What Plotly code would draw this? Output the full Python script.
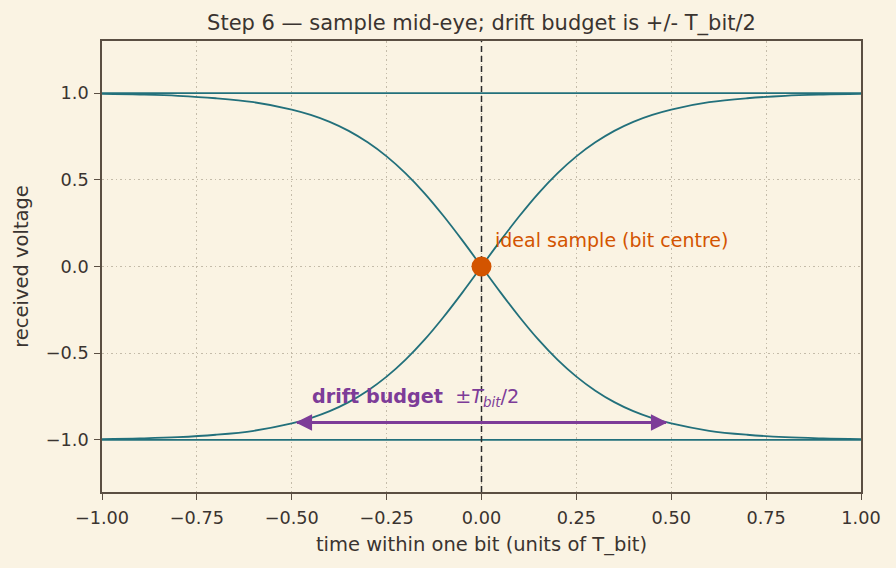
import plotly.graph_objects as go

# time samples (units of T_bit) and received voltage
t = [-1.0, -0.9, -0.8, -0.7, -0.6, -0.5, -0.45, -0.4, -0.35, -0.3, -0.25, -0.2, -0.15, -0.1, -0.05,
     0.0, 0.05, 0.1, 0.15, 0.2, 0.25, 0.3, 0.35, 0.4, 0.45, 0.5, 0.6, 0.7, 0.8, 0.9, 1.0]
rising = [-0.995, -0.991, -0.984, -0.970, -0.947, -0.905, -0.874, -0.834, -0.782, -0.716, -0.635,
          -0.537, -0.422, -0.291, -0.149, 0.0, 0.149, 0.291, 0.422, 0.537, 0.635, 0.716, 0.782,
          0.834, 0.874, 0.905, 0.947, 0.970, 0.984, 0.991, 0.995]
falling = [-v for v in rising]
flat_t = [-1.0, 1.0]
high = [1.0, 1.0]
low = [-1.0, -1.0]
centre_t = [0.0, 0.0]
centre_span = [-1.3, 1.3]
sample_t = [0.0]
sample_v = [0.0]
budget = [-0.49, 0.49]
budget_level = -0.9

x_ticks = [-1.0, -0.75, -0.5, -0.25, 0.0, 0.25, 0.5, 0.75, 1.0]
y_ticks = [-1.0, -0.5, 0.0, 0.5, 1.0]

BG = "#faf3e3"
TEAL = "#22707b"
ORANGE = "#d35400"
PURPLE = "#7d3c98"
INK = "#3a3430"
SPINE = "#5a4e42"
GRID = "#c4bba9"
FONT = "DejaVu Sans"

fig = go.Figure()
for ys in (rising, falling):
    fig.add_trace(go.Scatter(x=t, y=ys, mode="lines", line=dict(color=TEAL, width=1.8, shape="spline"),
                             hoverinfo="skip", showlegend=False))
for ys in (high, low):
    fig.add_trace(go.Scatter(x=flat_t, y=ys, mode="lines", line=dict(color=TEAL, width=1.8),
                             hoverinfo="skip", showlegend=False))

fig.add_trace(go.Scatter(x=centre_t, y=centre_span, mode="lines",
                         line=dict(color="#2b2b2b", width=1.5, dash="6px,4px"),
                         hoverinfo="skip", showlegend=False))

fig.add_trace(go.Scatter(x=sample_t, y=sample_v, mode="markers",
                         marker=dict(color=ORANGE, size=20, line=dict(width=0)),
                         showlegend=False))

fig.add_annotation(x=0.03, y=0.155, text="ideal sample (bit centre)", showarrow=False,
                   xanchor="left", yanchor="middle", font=dict(family=FONT, size=19, color=ORANGE))

# double-headed arrow
for a, b in ((budget[0], budget[1]), (budget[1], budget[0])):
    fig.add_annotation(x=a, y=budget_level, ax=b, ay=budget_level, xref="x", yref="y",
                       axref="x", ayref="y", text="", showarrow=True, arrowhead=2,
                       arrowsize=1.1, arrowwidth=3, arrowcolor=PURPLE)

fig.add_annotation(x=-0.452, y=-0.755, showarrow=False, xanchor="left", yanchor="middle",
                   text="<b>drift budget</b>  ±<i>T</i><sub><i>bit</i></sub>/2",
                   font=dict(family=FONT, size=19.2, color=PURPLE))

fig.update_layout(
    width=896, height=568,
    paper_bgcolor=BG, plot_bgcolor=BG,
    margin=dict(l=102, r=35, t=41, b=76),
    font=dict(family=FONT, color=INK, size=18),
    title=dict(text="Step 6 — sample mid-eye; drift budget is +/- T_bit/2",
               x=0.5, xref="paper", y=1, yref="paper", yanchor="bottom",
               pad=dict(b=11), font=dict(family=FONT, size=21, color=INK)),
    showlegend=False,
)
fig.update_xaxes(range=[-1, 1], tickvals=x_ticks, tickformat=".2f",
                 showgrid=True, gridcolor=GRID, griddash="1.5px,3px", gridwidth=1,
                 zeroline=False, showline=True, linecolor=SPINE, linewidth=1.5, mirror=True,
                 ticks="outside", ticklen=6, tickcolor=SPINE, tickfont=dict(size=17.7),
                 ticklabelstandoff=3,
                 title=dict(text="time within one bit (units of T_bit)", font=dict(size=19.5), standoff=10))
fig.update_yaxes(range=[-1.3, 1.3], tickvals=y_ticks, tickformat=".1f",
                 showgrid=True, gridcolor=GRID, griddash="1.5px,3px", gridwidth=1,
                 zeroline=False, showline=True, linecolor=SPINE, linewidth=1.5, mirror=True,
                 ticks="outside", ticklen=6, tickcolor=SPINE, tickfont=dict(size=17.7),
                 ticklabelstandoff=2,
                 title=dict(text="received voltage", font=dict(size=19.5), standoff=12))

fig.write_html("out.html")
